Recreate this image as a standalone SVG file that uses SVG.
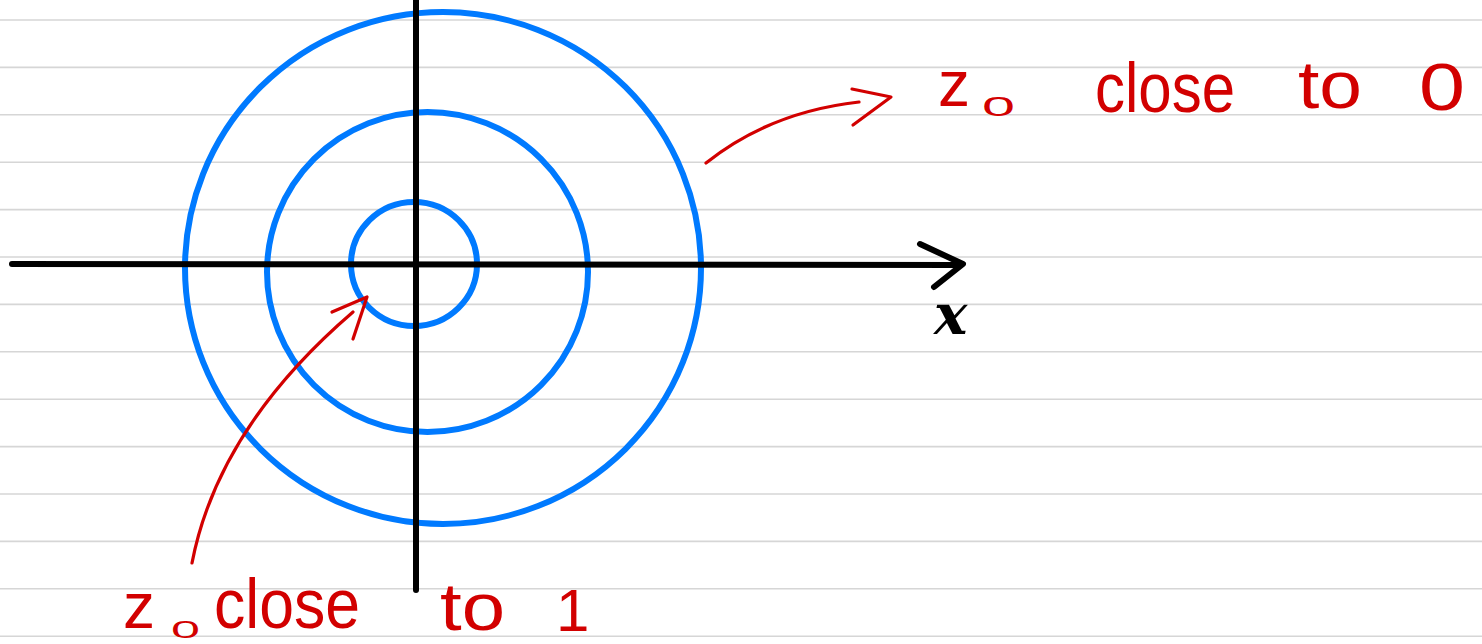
<svg xmlns="http://www.w3.org/2000/svg" width="1482" height="644" viewBox="0 0 1482 644">
<style>
.rule{stroke:#d6d6d6;stroke-width:1.6}
.ring{fill:none;stroke:#007aff;stroke-width:6}
.axis{fill:none;stroke:#000;stroke-width:6;stroke-linecap:round;stroke-linejoin:round}
.ink{fill:none;stroke:#d20000;stroke-width:3.2;stroke-linecap:round;stroke-linejoin:round}
.hand{font-family:"Liberation Sans","DejaVu Sans",sans-serif;fill:#d20000}
</style>
<rect width="1482" height="644" fill="#fff"/>
<g id="paper-rules">
<line class="rule" x1="0" y1="20" x2="1482" y2="20"/>
<line class="rule" x1="0" y1="67.4" x2="1482" y2="67.4"/>
<line class="rule" x1="0" y1="114.8" x2="1482" y2="114.8"/>
<line class="rule" x1="0" y1="162.2" x2="1482" y2="162.2"/>
<line class="rule" x1="0" y1="209.6" x2="1482" y2="209.6"/>
<line class="rule" x1="0" y1="257" x2="1482" y2="257"/>
<line class="rule" x1="0" y1="304.4" x2="1482" y2="304.4"/>
<line class="rule" x1="0" y1="351.8" x2="1482" y2="351.8"/>
<line class="rule" x1="0" y1="399.2" x2="1482" y2="399.2"/>
<line class="rule" x1="0" y1="446.6" x2="1482" y2="446.6"/>
<line class="rule" x1="0" y1="494" x2="1482" y2="494"/>
<line class="rule" x1="0" y1="541.4" x2="1482" y2="541.4"/>
<line class="rule" x1="0" y1="588.8" x2="1482" y2="588.8"/>
<line class="rule" x1="0" y1="636.2" x2="1482" y2="636.2"/>
</g>
<g id="circles">
<ellipse class="ring" cx="443" cy="268" rx="258" ry="256"/>
<ellipse class="ring" cx="427.5" cy="272" rx="160.5" ry="160"/>
<ellipse class="ring" cx="414" cy="264" rx="63" ry="62"/>
</g>
<g id="axes">
<line class="axis" x1="12" y1="264" x2="960" y2="265"/>
<polyline class="axis" points="920,244 963,264 934,287"/>
<line class="axis" x1="416" y1="0" x2="416" y2="590"/>
<text x="934" y="334" font-family="DejaVu Serif, serif" font-style="italic" font-weight="bold" font-size="56" fill="#000">x</text>
</g>
<g id="connectors">
<path class="ink" d="M706,163 Q770,112 859,102"/>
<polyline class="ink" points="852,89 891,97 853,125"/>
<path class="ink" d="M192,563 Q218,428 353,312"/>
<polyline class="ink" points="332,312 367,297 353,339"/>
</g>
<g id="label-top">
<text class="hand" x="938" y="106" font-size="64">z</text>
<text class="hand" x="982" y="116" font-size="28" textLength="33" lengthAdjust="spacingAndGlyphs">0</text>
<text class="hand" x="1095" y="112" font-size="70" textLength="140" lengthAdjust="spacingAndGlyphs">close</text>
<text class="hand" x="1298" y="108" font-size="66" textLength="64" lengthAdjust="spacingAndGlyphs">to</text>
<text class="hand" x="1419" y="110" font-size="66" textLength="46" lengthAdjust="spacingAndGlyphs">0</text>
</g>
<g id="label-bottom">
<text class="hand" x="123" y="628" font-size="64">z</text>
<text class="hand" x="171" y="638" font-size="24" textLength="29" lengthAdjust="spacingAndGlyphs">0</text>
<text class="hand" x="214" y="628" font-size="70" textLength="146" lengthAdjust="spacingAndGlyphs">close</text>
<text class="hand" x="440" y="630" font-size="66" textLength="65" lengthAdjust="spacingAndGlyphs">to</text>
<text class="hand" x="556" y="631" font-size="60">1</text>
</g>
</svg>
